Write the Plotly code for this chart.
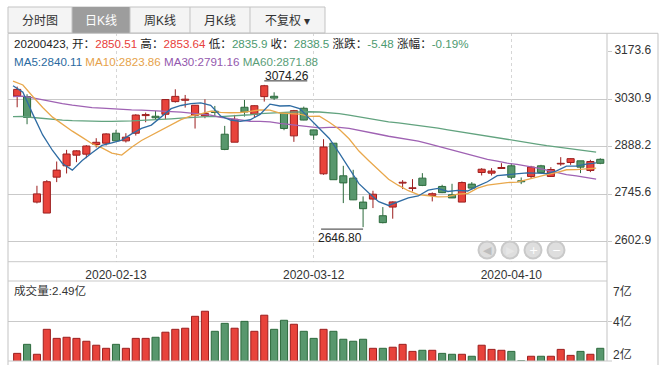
import plotly.graph_objects as go

# ---------------- data ----------------
dates = ["2020-01-22","2020-01-23","2020-02-03","2020-02-04","2020-02-05","2020-02-06","2020-02-07","2020-02-10","2020-02-11","2020-02-12",
         "2020-02-13","2020-02-14","2020-02-17","2020-02-18","2020-02-19","2020-02-20","2020-02-21","2020-02-24","2020-02-25","2020-02-26",
         "2020-02-27","2020-02-28","2020-03-02","2020-03-03","2020-03-04","2020-03-05","2020-03-06","2020-03-09","2020-03-10","2020-03-11",
         "2020-03-12","2020-03-13","2020-03-16","2020-03-17","2020-03-18","2020-03-19","2020-03-20","2020-03-23","2020-03-24","2020-03-25",
         "2020-03-26","2020-03-27","2020-03-30","2020-03-31","2020-04-01","2020-04-02","2020-04-03","2020-04-07","2020-04-08","2020-04-09",
         "2020-04-10","2020-04-13","2020-04-14","2020-04-15","2020-04-16","2020-04-17","2020-04-20","2020-04-21","2020-04-22","2020-04-23"]

opens = [3041, 3039, 2722, 2689, 2797, 2831, 2863, 2866, 2895, 2899,
         2929, 2906, 2929, 2982, 2980, 2986, 3024, 3028, 2983, 2981,
         2995, 2926, 2902, 3007, 2986, 3039, 3040, 2989, 2921, 3004,
         2939, 2807, 2899, 2801, 2794, 2722, 2731, 2681, 2707, 2779,
         2763, 2794, 2742, 2769, 2744, 2722, 2776, 2811, 2809, 2823,
         2831, 2786, 2799, 2831, 2799, 2836.5, 2841, 2846, 2817, 2850.51]

highs = [3069, 3046, 2771, 2788, 2844, 2879, 2878, 2893, 2914, 2929,
         2939, 2929, 2986, 2991, 2996, 3031, 3061, 3044, 3014, 3031,
         3011, 2951, 2984, 3029, 3013, 3074.26, 3052, 2989, 2999, 3009,
         2939, 2911, 2899, 2831, 2819, 2739, 2756, 2707, 2724, 2788,
         2791, 2809, 2751, 2774, 2777, 2784, 2782, 2824, 2824, 2839,
         2839, 2796, 2831, 2834, 2827, 2857, 2854, 2846, 2849, 2853.64]

lows = [3007, 2956, 2718, 2689, 2782, 2808, 2842, 2854, 2886, 2892,
        2906, 2901, 2922, 2962, 2969, 2971, 3021, 3006, 2943, 2974,
        2981, 2878, 2902, 2979, 2976, 3024, 3029, 2938, 2903, 2968,
        2909, 2804, 2789, 2719, 2728, 2646.80, 2704, 2658, 2672, 2761,
        2754, 2770, 2724, 2749, 2734, 2722, 2759, 2802, 2802, 2822,
        2791, 2776, 2792, 2811, 2799, 2831, 2834, 2809, 2812, 2835.90]

closes = [3060.75, 2976.53, 2746.61, 2783.29, 2818.09, 2866.51, 2875.96, 2890.49, 2901.67, 2926.90,
          2906.07, 2917.01, 2983.62, 2984.97, 2975.40, 3030.15, 3039.67, 3031.23, 3013.05, 2987.93,
          2991.33, 2880.30, 2970.93, 2992.90, 3011.67, 3071.68, 3034.51, 2943.29, 2996.76, 2968.52,
          2923.49, 2887.43, 2789.25, 2779.64, 2728.76, 2702.13, 2745.62, 2660.17, 2722.44, 2781.59,
          2764.91, 2772.20, 2747.21, 2750.30, 2734.52, 2780.64, 2763.99, 2820.76, 2815.37, 2825.90,
          2796.63, 2783.05, 2827.28, 2811.17, 2819.94, 2838.49, 2852.55, 2827.01, 2843.98, 2838.50]

# volume, 亿
volumes = [2.21, 2.71, 2.16, 3.54, 3.04, 3.10, 3.04, 2.88, 2.66, 2.49,
           2.71, 2.49, 3.04, 3.04, 3.10, 3.38, 3.54, 3.60, 4.26, 4.54,
           3.43, 3.87, 3.60, 3.98, 3.43, 4.32, 3.54, 4.04, 3.82, 3.43,
           3.04, 3.54, 3.43, 2.99, 2.88, 2.99, 2.49, 2.49, 2.55, 2.71,
           2.32, 2.38, 2.38, 2.21, 2.16, 2.16, 2.05, 2.66, 2.43, 2.38,
           2.32, 1.80, 2.05, 2.05, 2.05, 2.43, 2.10, 2.32, 2.16, 2.49]

ma5 = [3071.65, 3052.14, 2986.36, 2923.86, 2877.05, 2838.21, 2818.09, 2846.87, 2870.54, 2892.31,
       2900.22, 2908.43, 2927.05, 2943.71, 2953.41, 2978.23, 3002.76, 3012.28, 3017.90, 3020.41,
       3012.64, 2980.77, 2968.71, 2964.68, 2969.43, 2985.50, 3016.34, 3010.81, 3011.58, 3002.95,
       2973.31, 2943.90, 2913.09, 2869.67, 2821.71, 2777.44, 2749.08, 2723.26, 2711.82, 2722.39,
       2734.95, 2740.26, 2757.67, 2763.24, 2753.83, 2756.97, 2755.33, 2770.04, 2783.06, 2801.33,
       2804.53, 2808.34, 2809.65, 2808.81, 2807.61, 2815.99, 2829.89, 2829.83, 2836.39, 2840.11]

ma10 = [3085.79, 3073.95, 3039.38, 3006.16, 2977.28, 2954.93, 2935.12, 2916.62, 2897.20, 2884.68,
        2869.22, 2863.26, 2886.96, 2907.13, 2922.86, 2939.23, 2955.60, 2969.67, 2980.81, 2986.91,
        2995.44, 2991.77, 2990.50, 2991.29, 2994.92, 2999.07, 2998.56, 2989.76, 2988.13, 2986.19,
        2979.41, 2980.12, 2961.95, 2940.63, 2912.33, 2875.38, 2846.49, 2818.18, 2790.75, 2772.05,
        2756.20, 2744.67, 2740.47, 2737.53, 2738.11, 2745.96, 2747.80, 2763.86, 2773.15, 2777.58,
        2780.75, 2781.84, 2789.85, 2795.94, 2804.47, 2810.26, 2819.12, 2819.74, 2822.60, 2823.86]

ma30 = [3038.85, 3040.59, 3034.95, 3028.80, 3023.26, 3018.06, 3013.36, 3009.14, 3005.70, 3004.50,
        3001.95, 2999.79, 2999.00, 2998.33, 2996.17, 2995.51, 2993.99, 2992.24, 2989.89, 2986.00,
        2983.48, 2976.33, 2972.28, 2968.19, 2965.02, 2964.41, 2963.09, 2958.68, 2955.38, 2952.59,
        2948.02, 2945.05, 2946.47, 2946.35, 2943.37, 2937.89, 2933.55, 2925.87, 2919.89, 2915.05,
        2910.35, 2905.52, 2897.64, 2889.82, 2881.79, 2873.47, 2864.28, 2857.26, 2850.67, 2845.27,
        2838.78, 2835.54, 2830.75, 2824.70, 2818.31, 2810.53, 2804.47, 2800.59, 2795.50, 2791.16]

ma60 = [2978.58, 2979.20, 2976.16, 2973.25, 2970.62, 2968.54, 2966.83, 2965.36, 2964.32, 2964.60,
        2964.45, 2964.65, 2965.88, 2967.44, 2968.54, 2970.15, 2972.29, 2974.42, 2976.54, 2977.91,
        2979.31, 2978.93, 2980.28, 2982.30, 2984.56, 2987.68, 2990.29, 2991.02, 2992.43, 2993.33,
        2993.44, 2992.82, 2990.71, 2987.58, 2983.32, 2977.98, 2973.46, 2967.51, 2962.80, 2959.78,
        2956.15, 2952.66, 2948.32, 2944.08, 2938.98, 2934.49, 2929.14, 2924.75, 2920.28, 2915.64,
        2911.13, 2905.94, 2901.52, 2896.45, 2891.67, 2887.47, 2883.78, 2879.64, 2875.44, 2871.88]

price_ticks = [2602.9, 2745.6, 2888.2, 3030.9, 3173.6]
grid_ticks = [2602.9, 2745.6, 2888.2, 3030.9]
date_ticks = ["2020-02-13", "2020-03-12", "2020-04-10"]
vol_labels = ["7亿", "4亿", "2亿"]
tabs = ["分时图", "日K线", "周K线", "月K线", "不复权 ▾"]

# ---------------- style ----------------
W, H = 667, 374
FONT = "Liberation Sans, Arial, Noto Sans CJK SC, sans-serif"
UP_FILL, UP_LINE = "#e8433b", "#9c1e1e"
DN_FILL, DN_LINE = "#58976d", "#2c6a3c"
TXT_UP, TXT_DN = "#e8403a", "#4c9a70"
C_MA5, C_MA10, C_MA30, C_MA60 = "#2f6ca3", "#e9a84c", "#9f62b3", "#62a37f"
T_MA5, T_MA10, T_MA30, T_MA60 = "#2a6aa0", "#e6a24a", "#9358ad", "#5a9e78"
GRID = "#c9c9c9"
FRAME = "#c3c3c3"
HDR = 11.6


def px(x):
    return x / W


def py(y):
    return 1 - y / H


n = len(closes)
idx = list(range(n))
up = [c >= o for o, c in zip(opens, closes)]

fig = go.Figure()

# candle wicks (split so they never cross the body)
for flag, col in ((True, UP_LINE), (False, DN_LINE)):
    xs, ys = [], []
    for i in idx:
        if up[i] != flag:
            continue
        top = max(opens[i], closes[i])
        bot = min(opens[i], closes[i])
        xs += [i, i, None, i, i, None]
        ys += [highs[i], top, None, bot, lows[i], None]
    fig.add_trace(go.Scatter(x=xs, y=ys, mode="lines", line=dict(color=col, width=1),
                             xaxis="x", yaxis="y", hoverinfo="skip"))

# candle bodies
for flag, fill, line in ((True, UP_FILL, UP_LINE), (False, DN_FILL, DN_LINE)):
    sel = [i for i in idx if up[i] == flag]
    fig.add_trace(go.Bar(
        x=sel,
        base=[min(opens[i], closes[i]) for i in sel],
        y=[max(abs(closes[i] - opens[i]), 0.6) for i in sel],
        width=0.72,
        marker=dict(color=fill, line=dict(color=line, width=1)),
        xaxis="x", yaxis="y", hoverinfo="skip"))

# moving averages (drawn at the left side of each candle slot like the source)
xl = [i - 0.42 for i in idx]
for vals, col in ((ma60, C_MA60), (ma30, C_MA30), (ma10, C_MA10), (ma5, C_MA5)):
    fig.add_trace(go.Scatter(x=xl, y=vals, mode="lines", line=dict(color=col, width=1.3),
                             xaxis="x", yaxis="y", hoverinfo="skip"))

# volume bars
for flag, fill, line in ((True, UP_FILL, UP_LINE), (False, DN_FILL, DN_LINE)):
    sel = [i for i in idx if up[i] == flag]
    fig.add_trace(go.Bar(
        x=sel, y=[volumes[i] for i in sel], width=0.72,
        marker=dict(color=fill, line=dict(color=line, width=1)),
        xaxis="x2", yaxis="y2", hoverinfo="skip"))

# ---------------- layout ----------------
x_lo = (8 - 17.17) / 9.883
x_hi = (607 - 17.17) / 9.883
vol_lo, vol_hi = 1.788, 6.212
p_lo, p_hi = 2542.8, 3229.3

tick_pos = [dates.index(d) for d in date_ticks]

shapes = []


def hline(y, x0, x1, color=FRAME, width=1):
    shapes.append(dict(type="line", xref="paper", yref="paper", x0=px(x0), x1=px(x1),
                       y0=py(y), y1=py(y), line=dict(color=color, width=width)))


def vline(x, y0, y1, color=FRAME, width=1):
    shapes.append(dict(type="line", xref="paper", yref="paper", x0=px(x), x1=px(x),
                       y0=py(y0), y1=py(y1), line=dict(color=color, width=width)))


# tab bar
tab_edges = [8, 72, 130, 190, 250, 325]
shapes.append(dict(type="rect", xref="paper", yref="paper", x0=px(8), x1=px(325), y0=py(33), y1=py(7),
                   fillcolor="#f4f4f4", line=dict(color=FRAME, width=1), layer="below"))
shapes.append(dict(type="rect", xref="paper", yref="paper", x0=px(72), x1=px(130), y0=py(33), y1=py(7),
                   fillcolor="#9d9d9d", line=dict(width=0), layer="below"))
for e in tab_edges[1:-1]:
    vline(e, 7, 33)

# frame
hline(33.3, 8, 658)
vline(8, 33.3, 365)
vline(658, 33.3, 365)
vline(607, 33.3, 361)
hline(261.7, 8, 607, GRID)
hline(281, 8, 607, GRID)
hline(361, 8, 612, GRID)

annotations = []


def text(x, y, s, color="#333333", size=12, xanchor="left"):
    annotations.append(dict(xref="paper", yref="paper", x=px(x), y=py(y), text=s, showarrow=False,
                            xanchor=xanchor, yanchor="middle",
                            font=dict(family=FONT, size=size, color=color)))


for k, t in enumerate(tabs):
    cx = (tab_edges[k] + tab_edges[k + 1]) / 2
    text(cx, 20.5, t, "#ffffff" if k == 1 else "#333333", 12, "center")


def fmt(v):
    s = f"{v:.2f}"
    return s.rstrip("0").rstrip(".") if "." in s else s


chg = closes[-1] - closes[-2]
pct = chg / closes[-2] * 100
col_o = TXT_UP if opens[-1] >= closes[-2] else TXT_DN
col_h = TXT_UP if highs[-1] >= closes[-2] else TXT_DN
col_l = TXT_UP if lows[-1] >= closes[-2] else TXT_DN
col_c = TXT_UP if closes[-1] >= closes[-2] else TXT_DN
info = (f"{dates[-1].replace('-', '')}, 开：<span style='color:{col_o}'>{fmt(opens[-1])}</span> "
        f"高：<span style='color:{col_h}'>{fmt(highs[-1])}</span> "
        f"低：<span style='color:{col_l}'>{fmt(lows[-1])}</span> "
        f"收：<span style='color:{col_c}'>{fmt(closes[-1])}</span> "
        f"涨跌：<span style='color:{col_c}'>{chg:.2f}</span> "
        f"涨幅：<span style='color:{col_c}'>{pct:.2f}%</span>")
text(12, 43.3, info, "#222222", HDR)

ma_txt = (f"<span style='color:{T_MA5}'>MA5:{ma5[-1]:.2f}</span> "
          f"<span style='color:{T_MA10}'>MA10:{ma10[-1]:.2f}</span> "
          f"<span style='color:{T_MA30}'>MA30:{ma30[-1]:.2f}</span> "
          f"<span style='color:{T_MA60}'>MA60:{ma60[-1]:.2f}</span>")
text(12, 61.5, ma_txt, "#333333", HDR)

text(12, 290.7, f"成交量:{volumes[-1]:.2f}亿", "#333333", HDR)
for lab, yy in zip(vol_labels, (291, 321.7, 354)):
    text(611, yy, lab, "#333333")

# extreme price labels
imax = max(idx, key=lambda i: highs[i])
imin = min(idx, key=lambda i: lows[i])
annotations.append(dict(xref="x", yref="y", x=imax, y=highs[imax], text=f"{highs[imax]:.2f}",
                        showarrow=False, xanchor="left", yanchor="bottom", yshift=0, xshift=-1,
                        font=dict(family=FONT, size=12, color="#222222")))
shapes.append(dict(type="line", xref="x", yref="y", xsizemode="pixel", ysizemode="pixel",
                   xanchor=imax, yanchor=highs[imax], x0=0, x1=43, y0=4, y1=4,
                   line=dict(color="#333333", width=1)))
annotations.append(dict(xref="x", yref="y", x=imin, y=lows[imin], text=f"{lows[imin]:.2f}",
                        showarrow=False, xanchor="right", yanchor="top", yshift=-2, xshift=1,
                        font=dict(family=FONT, size=12, color="#222222")))
shapes.append(dict(type="line", xref="x", yref="y", xsizemode="pixel", ysizemode="pixel",
                   xanchor=imin, yanchor=lows[imin], x0=-42, x1=0, y0=-2, y1=-2,
                   line=dict(color="#333333", width=1)))

# navigation buttons
for cx, sym, col in ((487, "◀", "#bdbdbd"), (510, "▶", "#e6e6e6"), (533, "+", "#ffffff"), (556, "−", "#ffffff")):
    shapes.append(dict(type="circle", xref="paper", yref="paper", x0=px(cx - 8.5), x1=px(cx + 8.5),
                       y0=py(250 + 8.5), y1=py(250 - 8.5), fillcolor="#dedede",
                       line=dict(color="#c9c9c9", width=2)))
    annotations.append(dict(xref="paper", yref="paper", x=px(cx), y=py(250), text=sym, showarrow=False,
                            xanchor="center", yanchor="middle",
                            font=dict(family="DejaVu Sans", size=11, color=col)))

fig.update_layout(
    width=W, height=H, autosize=False,
    margin=dict(l=0, r=0, t=0, b=0, pad=0),
    paper_bgcolor="white", plot_bgcolor="white",
    showlegend=False, barmode="overlay", hovermode=False,
    font=dict(family=FONT, size=12, color="#333333"),
    xaxis=dict(domain=[px(8), px(607)], range=[x_lo, x_hi], anchor="y",
               tickvals=tick_pos, ticktext=date_ticks, showgrid=True, gridcolor="#d6d6d6",
               griddash="3px,3px", gridwidth=1, zeroline=False, showline=False, ticks="",
               ticklabelstandoff=4, tickfont=dict(family=FONT, size=12, color="#333333")),
    yaxis=dict(domain=[py(261.7), py(33.3)], range=[p_lo, p_hi], anchor="x", side="right",
               tickvals=price_ticks, ticktext=[f"{v:.1f}" for v in price_ticks],
               showgrid=False, zeroline=False, showline=False,
               ticks="outside", ticklen=4, tickcolor=GRID, ticklabelshift=-2,
               tickfont=dict(family=FONT, size=12, color="#333333"),
               minor=dict(tickvals=grid_ticks, showgrid=True, gridcolor=GRID, gridwidth=1, ticks="")),
    xaxis2=dict(domain=[px(8), px(607)], range=[x_lo, x_hi], anchor="y2", showticklabels=False,
                showgrid=False, zeroline=False, showline=False, ticks=""),
    yaxis2=dict(domain=[py(361), py(281)], range=[vol_lo, vol_hi], anchor="x2", side="right",
                tickvals=[4], showticklabels=False, showgrid=True, gridcolor=GRID, zeroline=False,
                showline=False, ticks="outside", ticklen=4, tickcolor=GRID),
    shapes=shapes, annotations=annotations,
)

fig.write_html("out.html", config={"displayModeBar": False},
               post_script="document.body.style.margin='0px';document.body.style.overflow='hidden';")
